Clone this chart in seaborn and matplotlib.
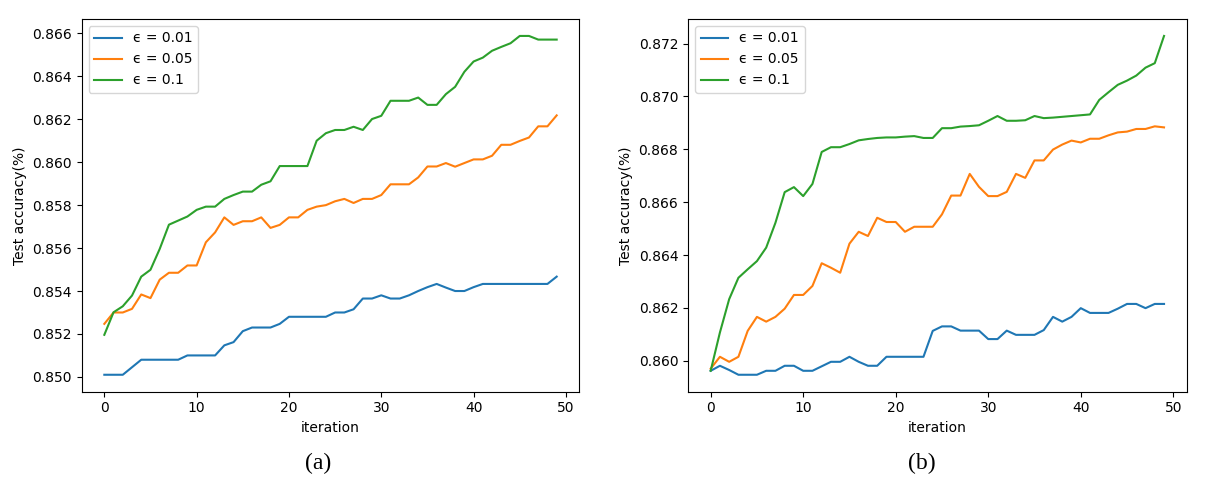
import numpy as np
import pandas as pd
import matplotlib
matplotlib.use("Agg")
import matplotlib.pyplot as plt
import seaborn as sns

iterations = list(range(50))
eps_labels = ["\u03f5 = 0.01", "\u03f5 = 0.05", "\u03f5 = 0.1"]

a_eps001 = [0.8501, 0.8501, 0.8501, 0.85045, 0.8508, 0.8508, 0.8508, 0.8508, 0.8508, 0.8510,
            0.8510, 0.8510, 0.8510, 0.85147, 0.85162, 0.85213, 0.8523, 0.8523, 0.8523, 0.85247,
            0.8528, 0.8528, 0.8528, 0.8528, 0.8528, 0.8530, 0.8530, 0.85315, 0.85365, 0.85365,
            0.8538, 0.85365, 0.85365, 0.8538, 0.8540, 0.85418, 0.85433, 0.85416, 0.8540, 0.8540,
            0.85418, 0.85433, 0.85433, 0.85433, 0.85433, 0.85433, 0.85433, 0.85433, 0.85433, 0.85467]
a_eps005 = [0.85247, 0.8530, 0.8530, 0.85317, 0.85384, 0.85367, 0.85453, 0.85485, 0.85485, 0.85519,
            0.85519, 0.85627, 0.85673, 0.85743, 0.85708, 0.85725, 0.85725, 0.85743, 0.85694, 0.85708,
            0.85743, 0.85743, 0.85778, 0.85793, 0.8580, 0.85818, 0.85829, 0.8581, 0.85829, 0.85829,
            0.85847, 0.85897, 0.85897, 0.85897, 0.85929, 0.8598, 0.8598, 0.85996, 0.85979, 0.85996,
            0.86013, 0.86013, 0.8603, 0.86081, 0.86081, 0.86099, 0.86115, 0.86167, 0.86167, 0.86218]
a_eps01 = [0.85196, 0.85301, 0.85329, 0.85379, 0.85467, 0.85499, 0.85596, 0.85709, 0.85728, 0.85747,
           0.85778, 0.85793, 0.85793, 0.85829, 0.85847, 0.85863, 0.85863, 0.85895, 0.85911, 0.85982,
           0.85982, 0.85982, 0.85982, 0.861, 0.86135, 0.8615, 0.8615, 0.86165, 0.8615, 0.86201,
           0.86216, 0.86286, 0.86286, 0.86286, 0.86301, 0.86267, 0.86267, 0.86317, 0.86351, 0.86421,
           0.86469, 0.86487, 0.86519, 0.86537, 0.86554, 0.86588, 0.86588, 0.86571, 0.86571, 0.86571]

b_eps001 = [0.85962, 0.85981, 0.85965, 0.85947, 0.85947, 0.85947, 0.85962, 0.85962, 0.85981, 0.85981,
            0.85962, 0.85962, 0.85979, 0.85996, 0.85996, 0.86015, 0.85996, 0.85981, 0.85981, 0.86015,
            0.86015, 0.86015, 0.86015, 0.86015, 0.86113, 0.8613, 0.8613, 0.86114, 0.86114, 0.86114,
            0.86082, 0.86082, 0.86114, 0.86098, 0.86098, 0.86098, 0.86116, 0.86166, 0.86148, 0.86166,
            0.86199, 0.86181, 0.86181, 0.86181, 0.86197, 0.86215, 0.86215, 0.86199, 0.86215, 0.86215]
b_eps005 = [0.8597, 0.86015, 0.85996, 0.86015, 0.86113, 0.86166, 0.86148, 0.86166, 0.86197, 0.86249,
            0.86249, 0.86283, 0.86369, 0.86352, 0.86333, 0.86443, 0.86488, 0.86472, 0.86541, 0.86525,
            0.86525, 0.86488, 0.86507, 0.86507, 0.86507, 0.86554, 0.86625, 0.86625, 0.86707, 0.86658,
            0.86623, 0.86623, 0.86639, 0.86707, 0.86692, 0.86758, 0.86758, 0.86799, 0.86818, 0.86833,
            0.86826, 0.8684, 0.8684, 0.86853, 0.86864, 0.86867, 0.86877, 0.86877, 0.86887, 0.86883]
b_eps01 = [0.85962, 0.86107, 0.86233, 0.86314, 0.86346, 0.86377, 0.86428, 0.86522, 0.86638, 0.86657,
           0.86623, 0.86669, 0.8679, 0.86808, 0.86808, 0.8682, 0.86834, 0.86839, 0.86843, 0.86845,
           0.86845, 0.86848, 0.8685, 0.86843, 0.86843, 0.8688, 0.8688, 0.86886, 0.86888, 0.86891,
           0.86908, 0.86926, 0.86908, 0.86908, 0.8691, 0.86926, 0.86918, 0.8692, 0.86923, 0.86926,
           0.86929, 0.86932, 0.86987, 0.87016, 0.87044, 0.8706, 0.87079, 0.87109, 0.87126, 0.87229]

panel_captions = ["(a)", "(b)"]
colors = ["#1f77b4", "#ff7f0e", "#2ca02c"]


def make_df(series):
    frames = []
    for lab, vals in zip(eps_labels, series):
        frames.append(pd.DataFrame({"iteration": iterations, "acc": vals, "eps": lab}))
    return pd.concat(frames, ignore_index=True)


plt.rcParams["font.family"] = ["DejaVu Sans"]
plt.rcParams["font.size"] = 10

W, H = 1207, 487
fig = plt.figure(figsize=(W / 100, H / 100), dpi=100)
fig.patch.set_facecolor("white")

axes_px = [(81.7, 579.3), (688.0, 1186.7)]
top_px, bottom_px = 19.0, 391.7
caption_x = [318, 922]

datasets = [
    make_df([a_eps001, a_eps005, a_eps01]),
    make_df([b_eps001, b_eps005, b_eps01]),
]

for k, ((l, r), df) in enumerate(zip(axes_px, datasets)):
    ax = fig.add_axes([l / W, 1 - bottom_px / H, (r - l) / W, (bottom_px - top_px) / H])
    sns.lineplot(data=df, x="iteration", y="acc", hue="eps", palette=colors,
                 linewidth=1.5, ax=ax, estimator=None)
    ax.set_xticks([0, 10, 20, 30, 40, 50])
    ax.set_xlabel("iteration")
    ax.set_ylabel("Test accuracy(%)")
    handles, labels = ax.get_legend_handles_labels()
    ax.legend(handles, labels, loc="upper left", frameon=True)
    ax.yaxis.set_major_formatter(matplotlib.ticker.FormatStrFormatter("%.3f"))
    fig.text(caption_x[k] / W, 1 - 463 / H, panel_captions[k], ha="center", va="center",
             fontsize=17, family="Liberation Serif")

fig.savefig("out.png", dpi=100, facecolor="white")
